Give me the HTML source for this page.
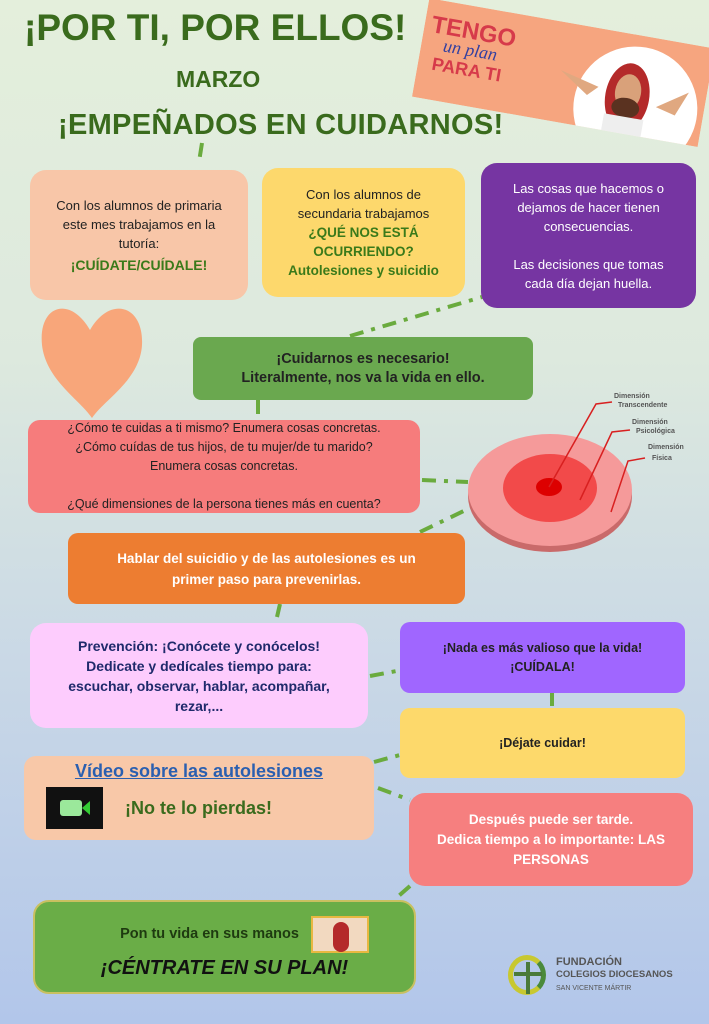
<!DOCTYPE html>
<html><head><meta charset="utf-8"><style>
*{margin:0;padding:0;box-sizing:border-box}
body{width:709px;height:1024px;overflow:hidden;position:relative;font-family:"Liberation Sans",sans-serif;background:linear-gradient(180deg,#e4efdc 0%,#dde9de 35%,#c9d8e6 65%,#b2c6ea 100%)}
.b{position:absolute;border-radius:16px;display:flex;flex-direction:column;justify-content:center;align-items:center;text-align:center;font-size:13px;line-height:19px;color:#222;padding:0 14px}
.t{position:absolute;color:#3f7a1f;font-weight:bold;white-space:nowrap}
svg{position:absolute;left:0;top:0}
</style></head><body>
<svg width="709" height="1024">
<defs><clipPath id="bc"><rect x="418" y="22" width="290" height="100"/></clipPath></defs>
<g stroke="#6aab3e" stroke-width="4" fill="none" stroke-dasharray="14 8 4 8">
<line x1="202" y1="143" x2="199" y2="162"/>
<line x1="350" y1="336" x2="482" y2="297"/>
<line x1="258" y1="400" x2="258" y2="414"/>
<line x1="422" y1="480" x2="468" y2="482"/>
<line x1="420" y1="532" x2="470" y2="508"/>
<line x1="280" y1="604" x2="277" y2="617"/>
<line x1="370" y1="676" x2="402" y2="670"/>
<line x1="552" y1="693" x2="552" y2="706"/>
<line x1="374" y1="762" x2="400" y2="755"/>
<line x1="378" y1="788" x2="410" y2="800"/>
<line x1="410" y1="886" x2="394" y2="900"/>
</g>
<path d="M90 330 C70 295 38 305 42 345 C46 380 80 400 92 418 C104 400 140 380 142 345 C144 305 110 295 90 330Z" fill="#f8a67a"/>
<ellipse cx="550" cy="496" rx="82" ry="56" fill="#c96a6a"/>
<ellipse cx="550" cy="490" rx="82" ry="56" fill="#f59a9a"/>
<ellipse cx="550" cy="488" rx="47" ry="34" fill="#f24a4a"/>
<ellipse cx="549" cy="487" rx="13" ry="9" fill="#dd0000"/>
<g stroke="#d82020" stroke-width="1.5" fill="none">
<polyline points="549,487 596,404 612,402"/>
<polyline points="580,500 612,432 630,430"/>
<polyline points="611,512 628,461 645,458"/>
</g>
<g font-size="7" font-weight="bold" fill="#555" font-family="Liberation Sans">
<text x="614" y="398">Dimensión</text><text x="618" y="407">Transcendente</text>
<text x="632" y="424">Dimensión</text><text x="636" y="433">Psicológica</text>
<text x="648" y="449">Dimensión</text><text x="652" y="460">Física</text>
</g>
<g transform="rotate(10 560 75)">
<g clip-path="url(#bc)">
<rect x="418" y="22" width="290" height="100" fill="#f6a57f"/>
<ellipse cx="640" cy="95" rx="62" ry="62" fill="#fff"/>
<path d="M560 70 L600 80 L590 90Z" fill="#e0a880"/>
<path d="M690 70 L660 90 L680 95Z" fill="#e0a880"/>
<ellipse cx="630" cy="85" rx="22" ry="34" fill="#b42a2a"/>
<ellipse cx="630" cy="80" rx="13" ry="18" fill="#d9a17a"/>
<ellipse cx="630" cy="96" rx="14" ry="10" fill="#5a3220"/>
<rect x="610" y="105" width="40" height="20" fill="#eee"/>
</g>
<text x="425" y="55" font-size="24" font-weight="bold" fill="#d63a4a" font-family="Liberation Sans">TENGO</text>
<text x="440" y="72" font-size="18" font-style="italic" fill="#3340a0" font-family="Liberation Serif">un plan</text>
<text x="432" y="92" font-size="18" font-weight="bold" fill="#d63a4a" font-family="Liberation Sans">PARA TI</text>
</g>
</svg>
<div class="t" style="left:24px;top:7px;font-size:37px;color:#3a6b1d">¡POR TI, POR ELLOS!</div>
<div class="t" style="left:176px;top:66px;font-size:23px;color:#3a6b1d">MARZO</div>
<div class="t" style="left:58px;top:109px;font-size:29px;color:#3a6b1d;letter-spacing:0.3px">¡EMPEÑADOS EN CUIDARNOS!</div>

<div class="b" style="left:30px;top:170px;width:218px;height:130px;background:#f8c6a8;padding:0 22px">Con los alumnos de primaria este mes trabajamos en la tutoría:<b style="color:#3a7a1a;font-size:14px;margin-top:3px">¡CUÍDATE/CUÍDALE!</b></div>
<div class="b" style="left:262px;top:168px;width:203px;height:129px;background:#fdd86c;padding:0 8px"><span style="padding:0 22px">Con los alumnos de secundaria trabajamos</span><b style="color:#3a7a1a;font-size:13.5px;line-height:19px;white-space:nowrap">¿QUÉ NOS ESTÁ<br>OCURRIENDO?<br>Autolesiones y suicidio</b></div>
<div class="b" style="left:481px;top:163px;width:215px;height:145px;background:#7635a2;color:#fff;padding:0 22px">Las cosas que hacemos o dejamos de hacer tienen consecuencias.<br><br>Las decisiones que tomas cada día dejan huella.</div>
<div class="b" style="left:193px;top:337px;width:340px;height:63px;background:#6aa84f;font-weight:bold;font-size:14.5px;border-radius:8px">¡Cuidarnos es necesario!<br>Literalmente, nos va la vida en ello.</div>
<div class="b" style="left:28px;top:420px;width:392px;height:93px;background:#f67c7c;border-radius:12px;font-size:12.5px;padding:0 22px">¿Cómo te cuidas a ti mismo? Enumera cosas concretas.<br>¿Cómo cuídas de tus hijos, de tu mujer/de tu marido? Enumera cosas concretas.<br><br>¿Qué dimensiones de la persona tienes más en cuenta?</div>
<div class="b" style="left:68px;top:533px;width:397px;height:71px;background:#ed7d31;color:#fff;font-weight:bold;font-size:13.5px;line-height:21px;border-radius:10px;padding:0 30px">Hablar del suicidio y de las autolesiones es un primer paso para prevenirlas.</div>
<div class="b" style="left:30px;top:623px;width:338px;height:105px;background:#fdccfd;color:#1f2a6b;font-weight:bold;font-size:14px;line-height:20px;padding:0 30px">Prevención: ¡Conócete y conócelos!<br>Dedicate y dedícales tiempo para: escuchar, observar, hablar, acompañar, rezar,...</div>
<div class="b" style="left:400px;top:622px;width:285px;height:71px;background:#a066ff;font-weight:bold;font-size:12.5px;border-radius:10px">¡Nada es más valioso que la vida!<br>¡CUÍDALA!</div>
<div class="b" style="left:400px;top:708px;width:285px;height:70px;background:#fdd96b;font-weight:bold;font-size:12.5px;border-radius:10px">¡Déjate cuidar!</div>
<div class="b" style="left:24px;top:756px;width:350px;height:84px;background:#f8c8a8;border-radius:12px;justify-content:flex-start;padding-top:6px">
<span style="color:#2a5fb0;font-weight:bold;font-size:18px;text-decoration:underline">Vídeo sobre las autolesiones</span>
<div style="display:flex;align-items:center;margin-top:6px;width:100%;padding-left:8px">
<div style="width:57px;height:42px;background:#111;display:flex;align-items:center;justify-content:center"><div style="width:22px;height:16px;background:#9be89b;border-radius:3px"></div><div style="width:0;height:0;border-top:7px solid transparent;border-bottom:7px solid transparent;border-right:8px solid #3c3"></div></div>
<b style="color:#3a6b1d;font-size:18px;margin-left:22px">¡No te lo pierdas!</b></div></div>
<div class="b" style="left:409px;top:793px;width:284px;height:93px;background:#f67f7f;color:#fff;font-weight:bold;font-size:13.5px;line-height:20px">Después puede ser tarde.<br>Dedica tiempo a lo importante: LAS PERSONAS</div>
<div class="b" style="left:33px;top:900px;width:383px;height:94px;background:#6aad47;border:2px solid #c9c060">
<div style="display:flex;align-items:center;margin-left:40px"><b style="font-size:14.5px;color:#1e3a10">Pon tu vida en sus manos</b><div style="width:58px;height:37px;background:#f2d9c0;border:2px solid #e8b840;margin-left:12px;position:relative"><div style="position:absolute;left:20px;top:4px;width:16px;height:30px;background:#b42a2a;border-radius:8px"></div></div></div>
<b style="font-size:20px;font-style:italic;color:#111;margin-top:6px">¡CÉNTRATE EN SU PLAN!</b></div>
<div style="position:absolute;left:508px;top:955px;width:38px;height:40px;border:5px solid #c8c830;border-right-color:#4a8a3a;border-radius:50%"></div>
<div style="position:absolute;left:526px;top:962px;width:4px;height:32px;background:#4a7a3a"></div>
<div style="position:absolute;left:514px;top:972px;width:28px;height:4px;background:#4a7a3a"></div>
<div style="position:absolute;left:556px;top:956px;color:#555;font-weight:bold;font-size:11px;line-height:12px">FUNDACIÓN<br><span style="font-size:9.5px">COLEGIOS DIOCESANOS</span><br><span style="font-size:7px;font-weight:normal">SAN VICENTE MÁRTIR</span></div>
</body></html>
